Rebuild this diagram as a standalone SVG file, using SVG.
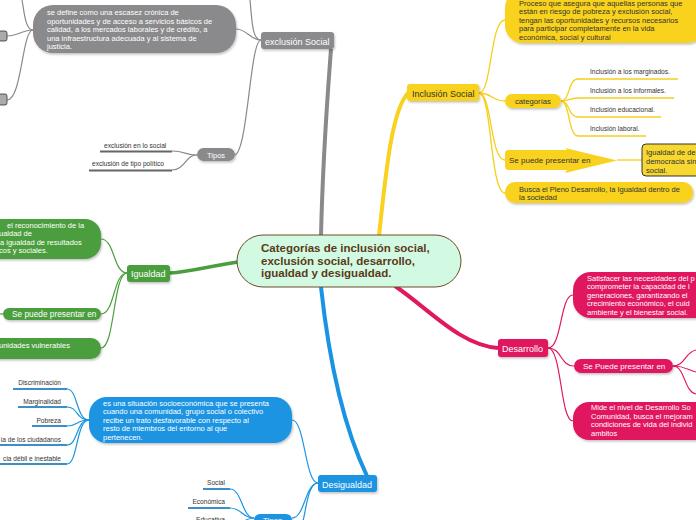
<svg xmlns="http://www.w3.org/2000/svg" width="696" height="520" viewBox="0 0 696 520">
<defs>
<filter id="sh" x="-10%" y="-20%" width="120%" height="150%"><feDropShadow dx="1" dy="1.5" stdDeviation="1" flood-color="#000" flood-opacity="0.25"/></filter>
</defs>
<style>
text{font-family:"Liberation Sans",Arial,sans-serif}
.w{fill:#fff}
.d{fill:#333}
.s{font-size:7.5px}
.xs{font-size:6.6px}
.n{font-size:9px}
.gray{fill:#8a8a8c}
.yel{fill:#f8d21e}
.grn{fill:#4b9e3e}
.pnk{fill:#e0195e}
.blu{fill:#1a94e2}
.cg{fill:none;stroke:#8a8a8c;stroke-width:1.2}
.cy{fill:none;stroke:#f5cf1a;stroke-width:1.3}
.cgr{fill:none;stroke:#4b9e3e;stroke-width:1.2}
.cp{fill:none;stroke:#e0195e;stroke-width:1.2}
.cb{fill:none;stroke:#1a94e2;stroke-width:1.2}
</style>
<g id="connectors">
<path d="M321,236 C323,150 328,90 331,49" fill="none" stroke="#8a8a8c" stroke-width="4"/>
<path d="M379,236 C386,170 392,110 408,93" fill="none" stroke="#f8d21e" stroke-width="4"/>
<path d="M238,262 C210,266 190,272 170,273" fill="none" stroke="#4b9e3e" stroke-width="3.5"/>
<path d="M395,286 C430,310 460,345 498,348" fill="none" stroke="#e0195e" stroke-width="4"/>
<path d="M321,287 C330,370 345,430 367,476" fill="none" stroke="#1a94e2" stroke-width="4"/>
<path class="cg" d="M261,40 C250,40 247,29 236,29"/>
<path class="cg" d="M261,40 C252,40 252,20 250,0"/>
<path class="cg" d="M261,40 C250,40 248,150 235,155"/>
<path class="cg" d="M33,30 C22,30 18,36 7,36"/>
<path class="cg" d="M33,30 C22,30 22,100 7,100"/>
<path class="cg" d="M33,30 C25,30 24,10 22,0"/>
<path class="cg" d="M197,155 C185,155 185,151 172,151"/>
<path class="cg" d="M197,155 C185,155 185,170 172,170"/>
<path d="M100,151.5 H172 M89,170.5 H172" fill="none" stroke="#666" stroke-width="2"/>
<path class="cy" d="M479,93 C492,93 490,20 505,20"/>
<path class="cy" d="M479,93 C492,93 492,101 505,101"/>
<path class="cy" d="M479,93 C492,93 490,160 505,160"/>
<path class="cy" d="M479,93 C492,93 490,193 505,193"/>
<path class="cy" d="M561,101 C570,101 568,79 578,79 H678"/>
<path class="cy" d="M561,101 C570,101 568,98 578,98 H674"/>
<path class="cy" d="M561,101 C570,101 568,117 578,117 H661"/>
<path class="cy" d="M561,101 C570,101 568,136 578,136 H646"/>
<path class="cy" d="M617,160 H642"/>
<path class="cgr" d="M127,273 C113,273 115,239 101,239"/>
<path class="cgr" d="M127,273 C113,273 115,314 101,314"/>
<path class="cgr" d="M127,273 C113,273 115,348 101,348"/>
<path class="cgr" d="M3,314 H0"/>
<path class="cp" d="M548,348 C562,348 560,295 573,295"/>
<path class="cp" d="M548,348 C562,348 560,366 574,366"/>
<path class="cp" d="M548,348 C562,348 560,421 573,421"/>
<path class="cp" d="M673,366 C685,366 685,352 696,350"/>
<path class="cp" d="M673,366 C685,366 688,370 696,372"/>
<path class="cp" d="M673,366 C685,366 684,392 696,394"/>
<path class="cb" d="M318,483 C305,483 305,420 292,420"/>
<path class="cb" d="M318,483 C305,483 305,518 292,518"/>
<path class="cb" d="M318,483 C306,483 306,520 300,530"/>
<path class="cb" d="M89,420 C76,420 78,389 67,389"/>
<path class="cb" d="M89,420 C76,420 78,407 67,407"/>
<path class="cb" d="M89,420 C76,420 78,426 67,426"/>
<path class="cb" d="M89,420 C76,420 78,445 67,445"/>
<path class="cb" d="M89,420 C76,420 78,464 67,464"/>
<path d="M13,389 H67 M18,407 H67 M32,426 H67 M0,445 H67 M0,464 H67" fill="none" stroke="#3a8fc8" stroke-width="2"/>
<path class="cb" d="M254,518 C242,518 242,489 230,489"/>
<path class="cb" d="M254,518 C242,518 242,508 230,508"/>
<path class="cb" d="M254,518 C242,518 242,527 230,527"/>
<path d="M203,489 H230 M188,508 H230" fill="none" stroke="#3a8fc8" stroke-width="2"/>
</g>
<g id="center">
<rect x="237" y="235" width="224" height="52" rx="26" fill="#d2fae2" stroke="#6e4b2a" stroke-width="1"/>
<text x="261" y="252" font-size="11.5" font-weight="bold" fill="#5a3a1a">Categorías de inclusión social,</text>
<text x="261" y="265" font-size="11.5" font-weight="bold" fill="#5a3a1a">exclusión social, desarrollo,</text>
<text x="261" y="277" font-size="11.5" font-weight="bold" fill="#5a3a1a">igualdad y desigualdad.</text>
</g>
<g id="exclusion">
<rect class="gray" x="261" y="32" width="73" height="17" rx="3" filter="url(#sh)"/>
<text class="w n" x="265" y="44.5">exclusión Social</text>
</g>
<g id="exclusion-def">
<rect class="gray" x="33" y="5" width="203" height="48" rx="20" filter="url(#sh)"/>
<text class="w s" x="47" y="15">se define como una escasez crónica de</text>
<text class="w s" x="47" y="23.5">oportunidades y de acceso a servicios básicos de</text>
<text class="w s" x="47" y="32">calidad, a los mercados laborales y de crédito, a</text>
<text class="w s" x="47" y="40.5">una infraestructura adecuada y al sistema de</text>
<text class="w s" x="47" y="49">justicia.</text>
</g>
<g id="small1"><rect x="-10" y="31" width="17" height="10" rx="2" fill="#aaa" stroke="#333" stroke-width="0.8"/></g>
<g id="small2"><rect x="-10" y="94" width="17" height="11" rx="2" fill="#aaa" stroke="#333" stroke-width="0.8"/></g>
<g id="tipos-ex">
<rect class="gray" x="197" y="148" width="38" height="13" rx="6.5" filter="url(#sh)"/>
<text class="w" x="207" y="158" font-size="7.5">Tipos</text>
<text class="d xs" x="104" y="147.5">exclusión en lo social</text>
<text class="d xs" x="92" y="166">exclusión de tipo político</text>
</g>
<g id="inclusion">
<rect class="yel" x="407" y="84" width="72" height="17" rx="3" filter="url(#sh)"/>
<text class="d n" x="412" y="96.5">Inclusión Social</text>
</g>
<g id="inclusion-def">
<rect class="yel" x="505" y="-10" width="200" height="53" rx="18" filter="url(#sh)"/>
<text class="d s" x="519" y="6">Proceso que asegura que aquellas personas que</text>
<text class="d s" x="519" y="14">están en riesgo de pobreza y exclusión social,</text>
<text class="d s" x="519" y="22.5">tengan las oportunidades y recursos necesarios</text>
<text class="d s" x="519" y="31">para participar completamente en la vida</text>
<text class="d s" x="519" y="39.5">económica, social y cultural</text>
</g>
<g id="categorias">
<rect class="yel" x="505" y="94" width="56" height="14" rx="7" filter="url(#sh)"/>
<text class="d" x="515" y="104" font-size="7.7">categorías</text>
<text class="d xs" x="590" y="74">Inclusión a los marginados.</text>
<text class="d xs" x="590" y="93">Inclusión a los informales.</text>
<text class="d xs" x="590" y="112">Inclusión educacional.</text>
<text class="d xs" x="590" y="131">Inclusión laboral.</text>
</g>
<g id="presentar-yel">
<path class="yel" d="M509,150 H567 L565,148 L617,160.5 L565,173 L567,170 H509 Q505,170 505,166 V154 Q505,150 509,150 Z"/>
<text class="d" x="509" y="163" font-size="8">Se puede presentar en</text>
</g>
<g id="igualdad-dem">
<rect x="642" y="144" width="70" height="32" rx="4" fill="#f6d830" stroke="#333" stroke-width="1"/>
<text class="d s" x="646" y="155">Igualdad de de</text>
<text class="d s" x="646" y="164">democracia sin</text>
<text class="d s" x="646" y="172.5">social.</text>
</g>
<g id="busca">
<rect class="yel" x="505" y="182" width="188" height="21" rx="10" filter="url(#sh)"/>
<text class="d s" x="519" y="191.5">Busca el Pleno Desarrollo, la Igualdad dentro de</text>
<text class="d s" x="519" y="200">la sociedad</text>
</g>
<g id="igualdad">
<rect class="grn" x="127" y="265" width="43" height="17" rx="3" filter="url(#sh)"/>
<text class="w n" x="131" y="277">Igualdad</text>
</g>
<g id="igualdad-def">
<rect class="grn" x="-30" y="219" width="131" height="40" rx="16" filter="url(#sh)"/>
<text class="w s" x="7" y="227.5">el reconocimiento de la</text>
<text class="w s" x="-1" y="236">ualdad de</text>
<text class="w s" x="0" y="244.5">a igualdad de resultados</text>
<text class="w s" x="-1" y="253">cos y sociales.</text>
</g>
<g id="presentar-grn">
<rect class="grn" x="3" y="308" width="98" height="12" rx="6" filter="url(#sh)"/>
<text class="w" x="12" y="317" font-size="8.3">Se puede presentar en</text>
</g>
<g id="vulnerables">
<rect class="grn" x="-30" y="338" width="131" height="21" rx="10" filter="url(#sh)"/>
<text class="w s" x="-1" y="347.5">unidades vulnerables</text>
</g>
<g id="desarrollo">
<rect class="pnk" x="498" y="339" width="50" height="18" rx="3" filter="url(#sh)"/>
<text class="w n" x="502" y="351.5">Desarrollo</text>
</g>
<g id="desarrollo-def">
<rect class="pnk" x="573" y="272" width="140" height="46" rx="18" filter="url(#sh)"/>
<text class="w s" x="587" y="280.5">Satisfacer las necesidades del p</text>
<text class="w s" x="587" y="289">comprometer la capacidad de l</text>
<text class="w s" x="587" y="297.5">generaciones, garantizando el</text>
<text class="w s" x="587" y="306">crecimiento económico, el cuid</text>
<text class="w s" x="587" y="314.5">ambiente y el bienestar social.</text>
</g>
<g id="presentar-pnk">
<rect class="pnk" x="574" y="359" width="99" height="14" rx="7" filter="url(#sh)"/>
<text class="w" x="583" y="369" font-size="8">Se Puede presentar en</text>
</g>
<g id="mide">
<rect class="pnk" x="573" y="402" width="140" height="38" rx="16" filter="url(#sh)"/>
<text class="w s" x="591" y="410">Mide el nivel de Desarrollo So</text>
<text class="w s" x="591" y="418.5">Comunidad, busca el mejoram</text>
<text class="w s" x="591" y="427">condiciones de vida del individ</text>
<text class="w s" x="591" y="435.5">ambitos</text>
</g>
<g id="desigualdad">
<rect class="blu" x="318" y="475" width="59" height="17" rx="3" filter="url(#sh)"/>
<text class="w n" x="322" y="487.5">Desigualdad</text>
</g>
<g id="desigualdad-def">
<rect class="blu" x="89" y="397" width="203" height="46" rx="18" filter="url(#sh)"/>
<text class="w s" x="103" y="405.5">es una situación socioeconómica que se presenta</text>
<text class="w s" x="103" y="414">cuando una comunidad, grupo social o colectivo</text>
<text class="w s" x="103" y="422.5">recibe un trato desfavorable con respecto al</text>
<text class="w s" x="103" y="431">resto de miembros del entorno al que</text>
<text class="w s" x="103" y="439.5">pertenecen.</text>
</g>
<g id="desig-items" text-anchor="end">
<text class="d xs" x="61" y="385">Discriminación</text>
<text class="d xs" x="61" y="404">Marginalidad</text>
<text class="d xs" x="61" y="423">Pobreza</text>
<text class="d xs" x="61" y="442">ía de los ciudadanos</text>
<text class="d xs" x="61" y="461">cia débil e inestable</text>
</g>
<g id="tipos-des">
<rect class="blu" x="254" y="514" width="38" height="16" rx="6" filter="url(#sh)"/>
<text class="w" x="263" y="523" font-size="8">Tipos</text>
<g text-anchor="end">
<text class="d xs" x="225" y="485">Social</text>
<text class="d xs" x="225" y="504">Económica</text>
<text class="d xs" x="225" y="522">Educativa</text>
</g>
</g>
</svg>
